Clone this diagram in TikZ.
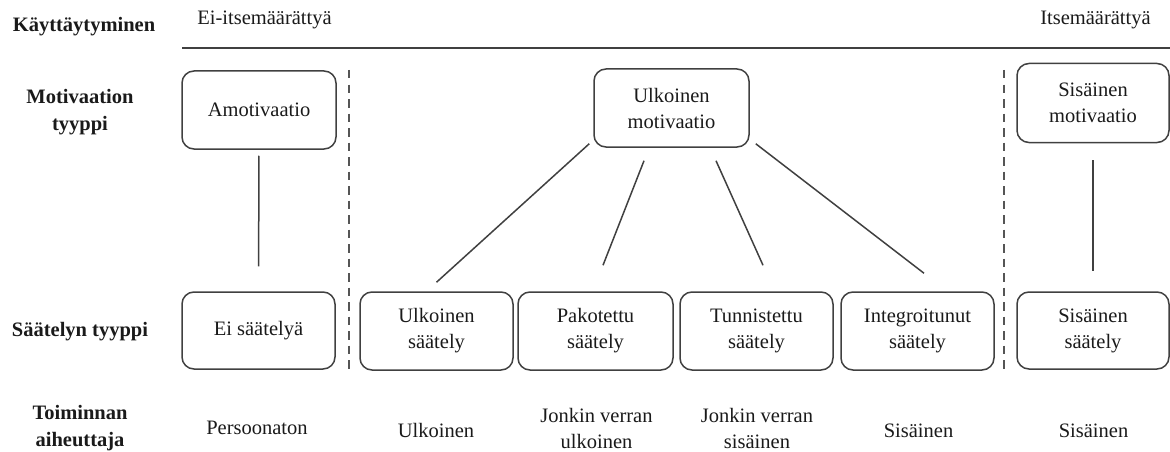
\documentclass[tikz,border=0pt]{standalone}
\usepackage{fontspec}
\setmainfont{Liberation Serif}
\definecolor{linec}{HTML}{404040}
\definecolor{dashc}{HTML}{555555}
\definecolor{txtc}{HTML}{1A1A1A}
\begin{document}
\begin{tikzpicture}[x=1pt,y=-1pt,
  every node/.style={font=\fontsize{20.5}{26}\selectfont, text=txtc, align=center, inner sep=0pt},
  box/.style={draw=linec, line width=1.5pt, rounded corners=12pt, minimum height=78pt},
  rowlabel/.style={font=\fontsize{20.5}{27}\selectfont\bfseries},
  conn/.style={draw=linec, line width=1.5pt},
  divider/.style={draw=dashc, line width=2pt, dash pattern=on 8.5pt off 6pt}]
\useasboundingbox (0,0) rectangle (1170,452);

% row labels
\node[rowlabel] (kay) at (84,27) {Käyttäytyminen};
\node[rowlabel] (mot) at (80,112) {Motivaation\\tyyppi};
\node[rowlabel] (saat) at (80,332) {Säätelyn tyyppi};
\node[rowlabel] (toim) at (80,428) {Toiminnan\\aiheuttaja};

% behaviour scale
\node (ei) at (264.5,20) {Ei-itsemäärättyä};
\node (itse) at (1095.5,20) {Itsemäärättyä};
\coordinate (hl) at (182,48);
\coordinate (hr) at (1170,48);
\draw[draw=linec, line width=2pt] (hl) -- (hr);

% dividers
\coordinate (d1t) at (349,70);
\coordinate (d1b) at (349,373);
\coordinate (d2t) at (1004,70);
\coordinate (d2b) at (1004,373);
\draw[divider] (d1t) -- (d1b);
\draw[divider] (d2t) -- (d2b);

% motivation boxes
\node[box, minimum width=154pt] (amot) at (259,110) {Amotivaatio};
\node[box, minimum width=155pt] (um) at (671.5,108) {Ulkoinen\\motivaatio};
\node[box, minimum width=152pt, minimum height=79pt] (sm) at (1093,103) {Sisäinen\\motivaatio};

% regulation boxes
\node[box, minimum width=153pt, minimum height=77pt] (eis) at (258.5,330.5) {Ei säätelyä};
\node[box, minimum width=153pt] (us) at (436.5,331) {Ulkoinen\\säätely};
\node[box, minimum width=155pt] (ps) at (595.5,331) {Pakotettu\\säätely};
\node[box, minimum width=153pt] (ts) at (756.5,331) {Tunnistettu\\säätely};
\node[box, minimum width=153pt] (is) at (917.5,331) {Integroitunut\\säätely};
\node[box, minimum width=152pt, minimum height=77pt] (ss) at (1093,330.5) {Sisäinen\\säätely};

% causes
\node (c1) at (257,428) {Persoonaton};
\node (c2) at (436,430) {Ulkoinen};
\node (c3) at (596.5,428) {Jonkin verran\\ulkoinen};
\node (c4) at (757,428) {Jonkin verran\\sisäinen};
\node (c5) at (918.5,431) {Sisäinen};
\node (c6) at (1093.5,431) {Sisäinen};

% connectors
\draw[conn, shorten <=6pt, shorten >=25pt] (amot.south) -- (eis.north);
\draw[conn, shorten <=17pt, shorten >=20pt] (sm.south) -- (ss.north);
\draw[conn] ([xshift=-4pt,yshift=4pt]um.south west) -- ([yshift=9pt]us.north);
\draw[conn] ([xshift=-27.5pt,yshift=-13pt]um.south) -- ([xshift=7.5pt,yshift=26pt]ps.north);
\draw[conn] ([xshift=44.5pt,yshift=-13pt]um.south) -- ([xshift=6.5pt,yshift=26pt]ts.north);
\draw[conn] ([xshift=6pt,yshift=4pt]um.south east) -- ([xshift=6.5pt,yshift=18pt]is.north);
\end{tikzpicture}
\end{document}
